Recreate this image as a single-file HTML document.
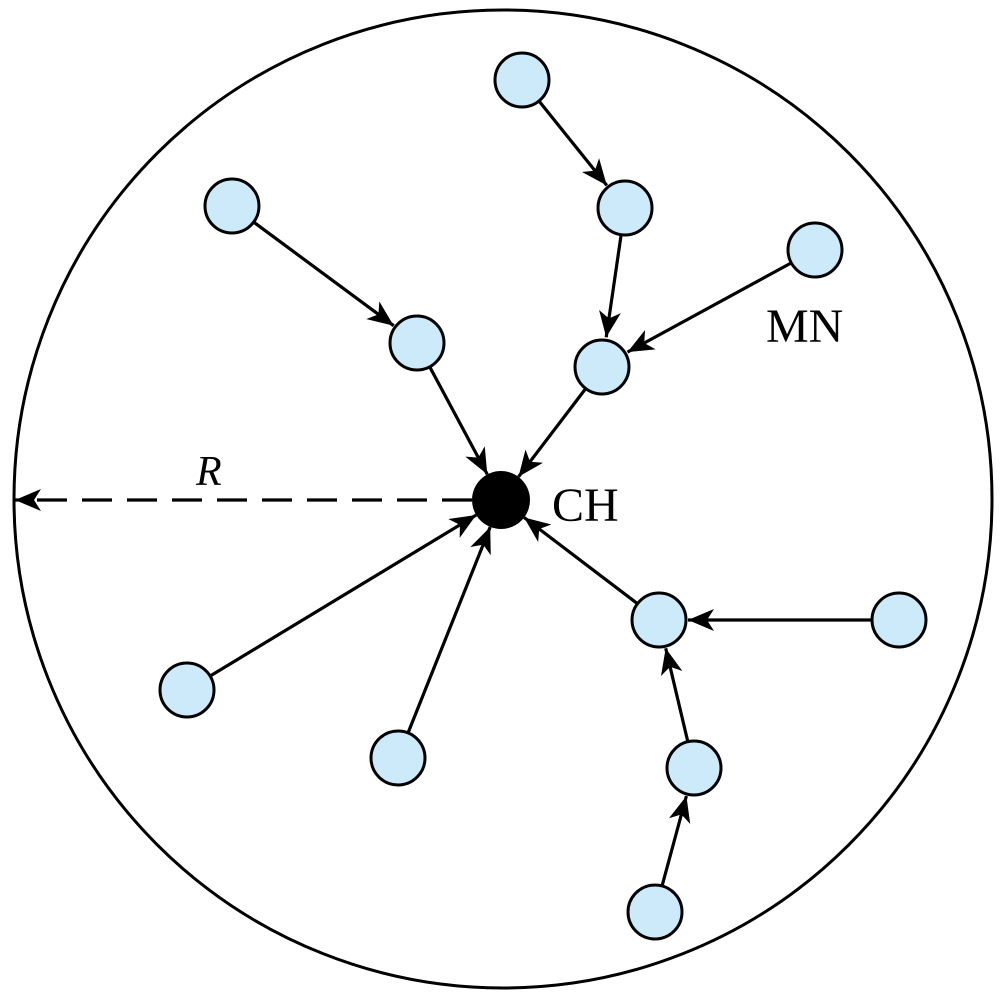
<!DOCTYPE html>
<html><head><meta charset="utf-8"><style>html,body{margin:0;padding:0;background:#fff}svg{display:block}</style></head><body>
<svg width="1004" height="1000" viewBox="0 0 1004 1000" xmlns="http://www.w3.org/2000/svg">
<defs>
<marker id="a" markerWidth="28" markerHeight="22" refX="26" refY="11" orient="auto" markerUnits="userSpaceOnUse">
<path d="M0,0 L26,11 L0,22 L7,11 Z" fill="#000"/>
</marker>
</defs>
<circle cx="503" cy="499" r="489" fill="none" stroke="#000" stroke-width="3"/>
<g stroke="#000" stroke-width="3.2" marker-end="url(#a)">
<line x1="539.6" y1="101.8" x2="606.8" y2="185.4"/>
<line x1="621" y1="235.7" x2="606.2" y2="337.3"/>
<line x1="790.4" y1="263.4" x2="627.5" y2="352.1"/>
<line x1="254.5" y1="222.7" x2="393.7" y2="325.7"/>
<line x1="430.2" y1="367.7" x2="487.3" y2="474.4"/>
<line x1="585.1" y1="389.4" x2="518.5" y2="476.8"/>
<line x1="211" y1="675.5" x2="476.2" y2="515"/>
<line x1="408.4" y1="732" x2="490.2" y2="527"/>
<line x1="636.7" y1="603.1" x2="524.1" y2="517.5"/>
<line x1="871" y1="620" x2="688" y2="620"/>
<line x1="687.6" y1="740.8" x2="665.7" y2="648.2"/>
<line x1="662.3" y1="885" x2="686.4" y2="796"/>
<line x1="472" y1="500" x2="15" y2="500" stroke-dasharray="30,15"/>
</g>
<g fill="#cdeafb" stroke="#000" stroke-width="3">
<circle cx="522" cy="80" r="27"/>
<circle cx="625" cy="208" r="27"/>
<circle cx="232" cy="206" r="27"/>
<circle cx="815" cy="250" r="27"/>
<circle cx="417" cy="343" r="27"/>
<circle cx="602" cy="367" r="27"/>
<circle cx="659" cy="620" r="27"/>
<circle cx="899" cy="620" r="27"/>
<circle cx="187" cy="690" r="27"/>
<circle cx="398" cy="758" r="27"/>
<circle cx="694" cy="768" r="27"/>
<circle cx="655" cy="912" r="27"/>
</g>
<circle cx="501" cy="500" r="29" fill="#000"/>
<g font-family="'Liberation Serif', 'Times New Roman', serif" fill="#000">
<text x="552" y="521" font-size="48">CH</text>
<text x="766" y="342" font-size="48">MN</text>
<text x="196" y="485" font-size="42" font-style="italic">R</text>
</g>
</svg>
</body></html>
